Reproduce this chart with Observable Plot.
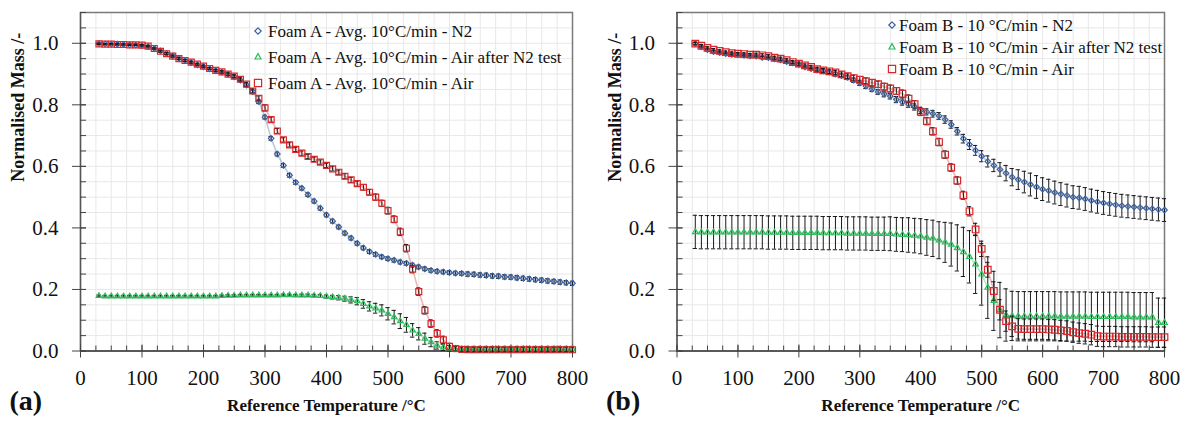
<!DOCTYPE html>
<html><head><meta charset="utf-8">
<script src="https://cdn.jsdelivr.net/npm/d3@7"></script>
<script src="https://cdn.jsdelivr.net/npm/@observablehq/plot@0.6"></script>
<style>
html,body{margin:0;padding:0;background:#fff;}
body{width:1189px;height:429px;overflow:hidden;position:relative;font-family:"Liberation Serif","DejaVu Serif",serif;}
.panel{position:absolute;top:0;}
.panel svg, .panel svg text{font-family:"Liberation Serif","DejaVu Serif",serif !important;}
.legend{position:absolute;font-size:17px;color:#111;line-height:1;}
.legend .row{position:absolute;white-space:nowrap;display:flex;align-items:center;}
.legend svg{overflow:visible;}
</style>
</head><body>
<div id="pa" class="panel" style="left:0px"></div>
<div id="pb" class="panel" style="left:596px"></div>
<div id="la" class="legend"></div>
<div id="lb" class="legend"></div>
<script>
// ---------- data ----------
const temps = [
 30,40,50,60,70,80,90,100,110,120,
 130,140,150,160,170,180,190,200,210,220,
 230,240,250,260,270,280,290,300,310,320,
 330,340,350,360,370,380,390,400,410,420,
 430,440,450,460,470,480,490,500,510,520,
 530,540,550,560,570,580,590,600,610,620,
 630,640,650,660,670,680,690,700,710,720,
 730,740,750,760,770,780,790,800];

// Panel (a) Foam A
const aN2 = [
 .999,.998,.997,.997,.996,.995,.994,.992,.989,.983,
 .975,.967,.959,.951,.944,.937,.930,.924,.917,.911,
 .906,.899,.891,.880,.864,.843,.810,.760,.691,.640,
 .603,.571,.548,.529,.508,.487,.464,.442,.422,.403,
 .383,.367,.350,.335,.323,.314,.306,.300,.295,.289,
 .285,.279,.273,.267,.262,.259,.257,.255,.253,.252,
 .250,.249,.247,.246,.244,.243,.241,.240,.238,.236,
 .234,.232,.230,.228,.226,.224,.222,.220];
const aN2Err = [
 .002,.002,.002,.002,.002,.002,.002,.002,.002,.002,
 .003,.003,.003,.003,.003,.003,.003,.003,.003,.003,
 .003,.003,.004,.004,.005,.006,.006,.006,.006,.006,
 .006,.006,.006,.006,.006,.006,.006,.006,.006,.006,
 .006,.006,.006,.006,.006,.006,.006,.006,.006,.006,
 .006,.006,.006,.006,.006,.006,.006,.006,.006,.006,
 .007,.007,.007,.007,.007,.007,.007,.007,.007,.007,
 .007,.007,.007,.007,.007,.007,.007,.007];
const aAirN2 = [
 .179,.178,.178,.178,.178,.178,.178,.178,.178,.178,
 .178,.178,.178,.178,.178,.178,.178,.178,.178,.178,
 .179,.180,.180,.181,.181,.181,.181,.181,.181,.181,
 .182,.182,.181,.181,.181,.180,.179,.177,.175,.173,
 .170,.166,.162,.153,.145,.139,.132,.121,.110,.097,
 .085,.067,.056,.040,.029,.018,.012,.009,.007,.006,
 .006,.006,.006,.006,.006,.006,.006,.006,.006,.006,
 .006,.006,.006,.006,.006,.006,.006,.006];
const aAirN2Err = [
 .003,.003,.003,.003,.003,.003,.003,.003,.003,.003,
 .003,.003,.003,.003,.003,.003,.003,.003,.003,.003,
 .003,.003,.003,.003,.003,.003,.003,.003,.003,.003,
 .003,.003,.003,.004,.004,.004,.005,.005,.006,.007,
 .008,.010,.012,.014,.015,.016,.018,.020,.022,.024,
 .024,.022,.020,.018,.015,.012,.010,.009,.009,.009,
 .009,.009,.009,.009,.009,.009,.009,.009,.009,.009,
 .009,.009,.009,.009,.009,.009,.009,.009];
const aAir = [
 .998,.997,.997,.996,.996,.995,.995,.994,.991,.983,
 .974,.966,.958,.950,.944,.939,.932,.926,.918,.912,
 .907,.900,.893,.883,.867,.845,.821,.790,.752,.715,
 .686,.670,.655,.643,.632,.623,.614,.603,.592,.581,
 .568,.556,.544,.532,.516,.500,.480,.456,.428,.387,
 .334,.266,.193,.132,.089,.057,.036,.015,.008,.005,
 .004,.004,.004,.004,.004,.004,.004,.004,.004,.004,
 .004,.004,.004,.004,.004,.004,.004,.004];
const aAirErr = [
 .002,.002,.002,.002,.002,.002,.002,.002,.002,.002,
 .003,.003,.003,.003,.003,.003,.003,.003,.003,.003,
 .004,.004,.005,.005,.006,.007,.008,.010,.008,.008,
 .007,.007,.007,.007,.007,.007,.007,.007,.007,.007,
 .008,.008,.008,.009,.009,.010,.010,.011,.011,.012,
 .012,.012,.012,.012,.012,.012,.012,.010,.008,.008,
 .008,.008,.008,.008,.008,.008,.008,.008,.008,.008,
 .008,.008,.008,.008,.008,.008,.008,.008];

// Panel (b) Foam B
const bN2 = [
 .999,.988,.979,.973,.970,.966,.964,.963,.961,.959,
 .958,.954,.953,.949,.946,.940,.936,.931,.923,.918,
 .913,.910,.906,.900,.895,.889,.880,.871,.861,.851,
 .842,.835,.828,.817,.809,.802,.793,.782,.777,.771,
 .764,.752,.736,.714,.690,.671,.652,.633,.616,.603,
 .590,.578,.565,.557,.549,.541,.533,.526,.521,.515,
 .510,.505,.500,.498,.494,.489,.485,.481,.478,.475,
 .472,.470,.468,.466,.464,.462,.460,.458];
const bN2Err = [
 .004,.004,.004,.004,.004,.004,.004,.004,.004,.004,
 .004,.004,.004,.004,.004,.004,.004,.004,.004,.004,
 .005,.005,.005,.006,.006,.007,.007,.008,.008,.008,
 .008,.009,.009,.010,.010,.010,.010,.010,.010,.011,
 .011,.012,.012,.012,.014,.016,.016,.018,.018,.020,
 .022,.025,.028,.032,.035,.037,.037,.037,.037,.037,
 .037,.037,.037,.037,.037,.037,.037,.037,.037,.037,
 .037,.037,.037,.037,.037,.037,.037,.037];
const bAirN2 = [
 .387,.386,.386,.386,.386,.386,.386,.386,.386,.386,
 .386,.386,.385,.385,.385,.385,.384,.384,.384,.384,
 .384,.383,.383,.383,.383,.382,.382,.382,.382,.381,
 .381,.381,.381,.379,.378,.377,.375,.373,.369,.366,
 .360,.353,.346,.335,.322,.306,.282,.249,.206,.163,
 .133,.117,.114,.113,.113,.113,.113,.113,.113,.113,
 .112,.112,.112,.112,.112,.111,.111,.111,.111,.111,
 .111,.111,.110,.110,.110,.110,.092,.092];
const bAirN2Err = [
 .054,.054,.054,.054,.054,.054,.054,.054,.054,.054,
 .054,.054,.054,.054,.054,.054,.054,.054,.054,.054,
 .054,.054,.054,.054,.054,.054,.054,.054,.054,.054,
 .054,.054,.055,.055,.055,.056,.056,.057,.058,.059,
 .060,.065,.070,.075,.080,.085,.095,.100,.100,.096,
 .090,.085,.080,.080,.080,.080,.080,.080,.080,.080,
 .080,.080,.080,.080,.080,.080,.080,.080,.080,.080,
 .080,.080,.080,.080,.080,.080,.080,.080];
const bAir = [
 .999,.992,.985,.979,.975,.971,.968,.966,.965,.963,
 .963,.961,.958,.953,.950,.945,.939,.934,.928,.923,
 .916,.912,.909,.905,.899,.893,.887,.882,.877,.872,
 .867,.859,.853,.845,.836,.820,.802,.777,.747,.714,
 .679,.638,.596,.554,.506,.454,.395,.332,.264,.195,
 .134,.097,.080,.072,.071,.071,.071,.071,.070,.069,
 .067,.065,.061,.058,.056,.053,.048,.047,.047,.047,
 .046,.046,.046,.046,.046,.045,.045,.045];
const bAirErr = [
 .004,.004,.004,.004,.004,.004,.004,.004,.004,.004,
 .005,.005,.005,.005,.005,.005,.005,.005,.005,.005,
 .006,.006,.007,.007,.008,.008,.009,.010,.010,.010,
 .010,.011,.011,.011,.012,.012,.012,.012,.012,.012,
 .012,.012,.012,.012,.013,.015,.020,.025,.024,.030,
 .033,.033,.033,.033,.033,.033,.033,.033,.033,.033,
 .033,.033,.033,.033,.033,.033,.033,.033,.033,.033,
 .033,.033,.033,.033,.033,.033,.033,.033];

const xMajor = [0,100,200,300,400,500,600,700,800];
const xMinor = [0,25,50,75,100,125,150,175,200,225,250,275,300,325,350,375,400,425,450,475,500,525,550,575,600,625,650,675,700,725,750,775,800];
const yMajor = [0,0.2,0.4,0.6,0.8,1.0];
const yMinor = [0,0.05,0.1,0.15,0.2,0.25,0.3,0.35,0.4,0.45,0.5,0.55,0.6,0.65,0.7,0.75,0.8,0.85,0.9,0.95,1.0,1.05,1.1];

const xTitle = "Reference Temperature /°C";
const yTitle = "Normalised Mass /-";

const namesA = ["Foam A - Avg. 10°C/min - N2","Foam A - Avg. 10°C/min - Air after N2 test","Foam A - Avg. 10°C/min - Air"];
const namesB = ["Foam B - 10 °C/min - N2","Foam B - 10 °C/min - Air after N2 test","Foam B - 10 °C/min - Air"];

const colors = {n2:"#3c62a0", airn2:"#2dbe5c", air:"#d8282b"};
const symbols = {n2:"diamond2", airn2:"triangle2", air:"square2"};
const FONT = "Liberation Serif, DejaVu Serif, serif";

function rows(vals, errs) {
  return temps.map((t,i)=>({t, v: vals[i], e: errs[i]}));
}

function makePanel({width, marginLeft, marginRight, tag, series}) {
  const H = 429, mT = 12, mB = 78.5;
  const fw = width - marginLeft - marginRight, fh = H - mT - mB;
  const marks = [
    Plot.gridX(xMinor, {stroke:"#e8e8e8", strokeOpacity:1, strokeWidth:1}),
    Plot.gridY(yMinor, {stroke:"#e8e8e8", strokeOpacity:1, strokeWidth:1}),
    Plot.frame({stroke:"#7a7a7a", strokeWidth:1.5}),
    Plot.ruleY([0], {stroke:"#444", strokeWidth:1.3}),
    Plot.ruleX([0], {stroke:"#555", strokeWidth:1.3}),
    Plot.tickX(xMinor, {x:d=>d, stroke:"#444", insetTop: fh-5}),
    Plot.tickX(xMajor, {x:d=>d, stroke:"#444", insetTop: fh-6, insetBottom:-7}),
    Plot.tickY(yMinor, {y:d=>d, stroke:"#444", insetRight: fw-6}),
    Plot.tickY(yMajor, {y:d=>d, stroke:"#444", insetRight: fw-6, insetLeft:-8}),
    Plot.axisX(xMajor, {tickSize:0, tickPadding:19, label:null, fontSize:21, fontFamily:FONT, tickFormat:d3.format("d")}),
    Plot.axisY(yMajor, {tickSize:0, tickPadding:22, label:null, fontSize:21, fontFamily:FONT, tickFormat:d3.format(".1f")}),
  ];
  for (const s of series) {
    const d = rows(s.vals, s.errs);
    marks.push(
      Plot.line(d, {x:"t", y:"v", stroke:s.color, strokeOpacity:0.35, strokeWidth:1.6}),
      Plot.ruleX(d, {x:"t", y1:r=>r.v-r.e, y2:r=>r.v+r.e, stroke:"#1a1a1a", strokeWidth:1}),
      Plot.ruleY(d, {y:r=>r.v+r.e, x1:r=>r.t-3.5, x2:r=>r.t+3.5, stroke:"#1a1a1a", strokeWidth:1}),
      Plot.ruleY(d, {y:r=>r.v-r.e, x1:r=>r.t-3.5, x2:r=>r.t+3.5, stroke:"#1a1a1a", strokeWidth:1}),
      Plot.dot(d, {x:"t", y:"v", symbol:s.symbol, r:s.r, stroke:s.color, strokeWidth:1.2, fill:"none"})
    );
  }
  marks.push(
    Plot.text([yTitle], {frameAnchor:"left", rotate:-90, dx:-62, fontWeight:"bold", fontSize:18, fontFamily:FONT, text:d=>d}),
    Plot.text([xTitle], {frameAnchor:"bottom", dy:60, fontWeight:"bold", fontSize:17, fontFamily:FONT, text:d=>d}),
    Plot.text([tag], {frameAnchor:"bottom-left", dx:-71, dy:59, textAnchor:"start", fontWeight:"bold", fontSize:28, fontFamily:FONT, text:d=>d})
  );
  return Plot.plot({
    width, height:H, marginLeft, marginRight, marginTop:mT, marginBottom:mB,
    x:{domain:[0,800]}, y:{domain:[0,1.1]},
    style:{fontFamily:FONT, background:"#fff", color:"#111", overflow:"visible"},
    marks
  });
}

document.getElementById("pa").appendChild(makePanel({
  width:595, marginLeft:80, marginRight:23, tag:"(a)",
  series:[
    {vals:aAirN2, errs:aAirN2Err, color:colors.airn2, symbol:symbols.airn2, r:2.6},
    {vals:aN2, errs:aN2Err, color:colors.n2, symbol:symbols.n2, r:2.5},
    {vals:aAir, errs:aAirErr, color:colors.air, symbol:symbols.air, r:3.8},
  ]
}));
document.getElementById("pb").appendChild(makePanel({
  width:593, marginLeft:80.5, marginRight:25, tag:"(b)",
  series:[
    {vals:bAirN2, errs:bAirN2Err, color:colors.airn2, symbol:symbols.airn2, r:2.7},
    {vals:bN2, errs:bN2Err, color:colors.n2, symbol:symbols.n2, r:2.5},
    {vals:bAir, errs:bAirErr, color:colors.air, symbol:symbols.air, r:4.2},
  ]
}));

// ---------- legends (HTML overlay) ----------
function legend(id, names, symX, textX, ys) {
  const el = document.getElementById(id);
  const keys = ["n2","airn2","air"];
  const paths = {
    n2: "M0,-3.2L3.2,0L0,3.2L-3.2,0Z",
    airn2: "M0,-3.4L3,2L-3,2Z",
    air: "M-3.6,-3.6H3.6V3.6H-3.6Z"
  };
  keys.forEach((k,i)=>{
    const row = document.createElement("div");
    row.className = "row";
    row.style.left = (symX-6)+"px";
    row.style.top = (ys[i]-9)+"px";
    row.style.height = "18px";
    row.innerHTML = `<svg width="12" height="12" viewBox="-6 -6 12 12"><path d="${paths[k]}" fill="none" stroke="${colors[k]}" stroke-width="1.2"/></svg>` +
      `<span style="margin-left:${textX-symX-6}px">${names[i]}</span>`;
    el.appendChild(row);
  });
}
legend("la", namesA, 258, 268, [31, 57, 83]);
legend("lb", namesB, 892, 899, [25, 47, 69]);
</script>
</body></html>
